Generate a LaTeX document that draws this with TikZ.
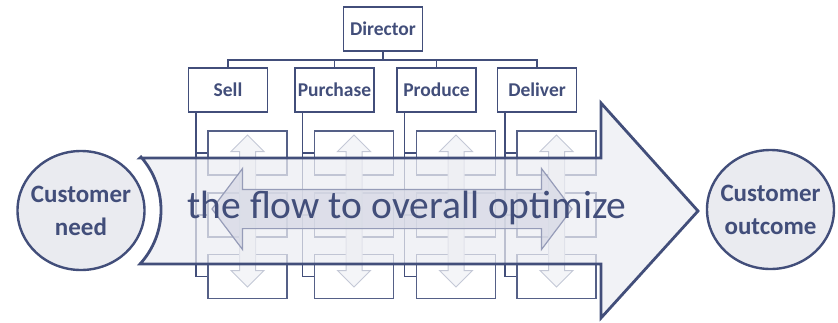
\documentclass[tikz,border=0pt]{standalone}
\usepackage{fontspec}
\setmainfont{Carlito}
\usetikzlibrary{shapes.arrows,shapes.geometric}

\definecolor{navy}{RGB}{66,78,122}
\definecolor{paleline}{RGB}{196,200,214}
\definecolor{palefill}{RGB}{244,245,248}
\definecolor{flowfill}{RGB}{236,237,242}
\definecolor{bubble}{RGB}{234,235,240}
\definecolor{lanefill}{RGB}{214,217,229}
\definecolor{laneline}{RGB}{150,156,184}

\begin{document}
\begin{tikzpicture}[x=1pt,y=-1pt,
    box/.style={draw=navy,line width=1.1pt,fill=white,minimum width=79pt,minimum height=44pt,inner sep=0pt,text=navy,font=\bfseries\fontsize{19.5}{19.5}\selectfont},
    subbox/.style={draw=navy!90,line width=1.1pt,minimum width=79pt,minimum height=44pt,inner sep=0pt},
    link/.style={draw=navy,line width=1.1pt},
    updown/.style={double arrow,rotate=90,draw=paleline,fill=palefill,line width=1pt,inner xsep=0pt,inner ysep=7.5pt,minimum height=152pt,double arrow head extend=8.5pt},
    bubblenode/.style={ellipse,draw=navy,fill=bubble,line width=2.4pt,minimum width=127pt,minimum height=119pt,inner sep=0pt},
    bubbletext/.style={align=center,text=navy,font=\bfseries\fontsize{25}{33}\selectfont}]
    \useasboundingbox (0,0) rectangle (838,322);
    \node[box] (dir) at (383,29) {Director};
    \coordinate (bus) at (383,60);
    \foreach \n/\t/\x in {sell/Sell/228,pur/Purchase/334.5,pro/Produce/436.5,del/Deliver/537}
    {
        \node[box] (\n) at (\x,90) {\t};
        \foreach \k/\y in {1/153,2/215,3/276.5}
        {
            \node[subbox] (\n\k) at (\x+19.5,\y) {};
            \draw[link] ([xshift=8pt]\n.south west) |- (\n\k.west);
        }
        \node[updown] (\n arr) at (\x+19.5,211) {};
    }
    \draw[link] (dir.south) -- (bus);
    \draw[link] (sell.north) |- (del.north |- bus) -- (del.north);
    \draw[link] (pur.north) -- (pur.north |- bus);
    \draw[link] (pro.north) -- (pro.north |- bus);
    \draw[draw=navy,line width=2.8pt,line join=miter,fill=flowfill,fill opacity=0.72]
        (140,158) -- (601,158) -- (601,103) -- (698,211) -- (601,318) -- (601,264) -- (140,264)
        arc[start angle=42.5,end angle=-41.4,radius=80] -- cycle;
    \node[double arrow,draw=laneline,fill=lanefill,fill opacity=0.75,line width=1.2pt,inner xsep=0pt,inner ysep=19pt,
        minimum height=360pt,double arrow head extend=21pt,double arrow tip angle=106] (lane) at (392,209) {};
    \node[text=navy,font=\fontsize{39.5}{39.5}\selectfont] (flow) at (407,208) {the flow to overall optimize};
    \node[bubblenode] (need) at (81,210.5) {};
    \node[bubbletext] (needtext) at (need) {Customer\\need};
    \node[bubblenode] (outcome) at (770.5,209.5) {};
    \node[bubbletext] (outcometext) at (outcome) {Customer\\outcome};
\end{tikzpicture}
\end{document}
